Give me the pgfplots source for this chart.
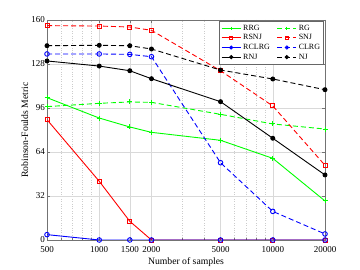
\documentclass[border=0pt]{standalone}
\usepackage{pgfplots}
\pgfplotsset{compat=1.18}
\usepackage{fontspec}
\setmainfont{Liberation Serif}
\begin{document}
\begin{tikzpicture}
\fontsize{9}{10}\selectfont
\begin{axis}[
  name=ax,
  at={(0,0)}, anchor=south west,
  width=278pt, height=220pt, scale only axis,
  xmode=log, xmin=500, xmax=20000,
  ymin=0, ymax=160,
  xtick={500,1000,1500,2000,5000,10000,20000},
  xticklabels={500,1000,1500,2000,5000,10000,20000},
  minor xtick={600,700,800,900,3000,4000,6000,7000,8000,9000},
  ytick={0,32,64,96,128,160},
  /pgf/number format/assume math mode=true,
  tick label style={font=\fontsize{9}{10}\selectfont},
  xticklabel style={yshift=-3pt},
  yticklabel style={xshift=1pt},
  label style={font=\fontsize{9.7}{10}\selectfont},
  xlabel={Number of samples},
  ylabel={Robinson-Foulds Metric},
  xlabel style={yshift=1pt},
  ylabel style={yshift=-3pt},
  grid=both,
  major grid style={black!15, line width=0.4pt},
  minor grid style={black!20, dotted, line width=0.4pt},
  axis line style={black!55},
  tick style={black!55},
  tick align=inside,
  major tick length=3pt, minor tick length=1.5pt,
  legend columns=2,
  legend style={at={(rel axis cs:1,1)}, anchor=north east, xshift=-1pt, yshift=-1pt,
    draw=black!60, line width=0.8pt, font=\fontsize{8}{9}\selectfont,
    inner sep=1.5pt, row sep=-1pt, /tikz/every even column/.append style={column sep=5pt}},
  legend cell align=left,
  legend image code/.code={
    \draw[#1, mark=none] (0pt,0pt) -- (19pt,0pt);
    \draw[#1, only marks, mark size=1.6pt] plot coordinates {(9.5pt,0pt)};
  },
  every axis plot/.append style={line width=0.9pt},
]
\addplot[green, mark=+, mark size=2.5pt, mark options={solid}] coordinates {
(500,103.5) (1000,88.7) (1500,82.2) (2000,78.3) (5000,72.5) (10000,59.4) (20000,28.4)};
\addlegendentry{RRG}
\addplot[green, dash pattern=on 5pt off 3pt, mark=+, mark size=2.5pt, mark options={solid}] coordinates {
(500,97) (1000,99.4) (1500,100.4) (2000,100.1) (5000,91.4) (10000,84.4) (20000,80.7)};
\addlegendentry{RG}
\addplot[red, mark=square, mark size=2pt, mark options={solid}] coordinates {
(500,87.5) (1000,42.7) (1500,13.6) (2000,0) (5000,0) (10000,0) (20000,0)};
\addlegendentry{RSNJ}
\addplot[red, dash pattern=on 5pt off 3pt, mark=square, mark size=2pt, mark options={solid}] coordinates {
(500,155.9) (1000,155.6) (1500,154.9) (2000,152.5) (5000,123.1) (10000,97.5) (20000,54.3)};
\addlegendentry{SNJ}
\addplot[blue, mark=o, mark size=2.3pt, mark options={solid}] coordinates {
(500,3.9) (1000,0) (1500,0) (2000,0) (5000,0) (10000,0) (20000,0)};
\addlegendentry{RCLRG}
\addplot[blue, dash pattern=on 5pt off 3pt, mark=o, mark size=2.3pt, mark options={solid}] coordinates {
(500,135.3) (1000,135.3) (1500,135) (2000,133.3) (5000,56.2) (10000,20.8) (20000,4.4)};
\addlegendentry{CLRG}
\addplot[black, mark=*, mark size=2pt, mark options={solid}] coordinates {
(500,130.2) (1000,126.5) (1500,123.1) (2000,117.3) (5000,100.6) (10000,74) (20000,47.3)};
\addlegendentry{RNJ}
\addplot[black, dash pattern=on 5pt off 3pt, mark=*, mark size=2pt, mark options={solid}] coordinates {
(500,141.3) (1000,141.6) (1500,141.3) (2000,138.9) (5000,123.6) (10000,117.1) (20000,109.3)};
\addlegendentry{NJ}
\end{axis}
\pgfresetboundingbox
\path[use as bounding box] (-47pt,-30pt) rectangle (313pt,240pt);
\end{tikzpicture}
\end{document}
